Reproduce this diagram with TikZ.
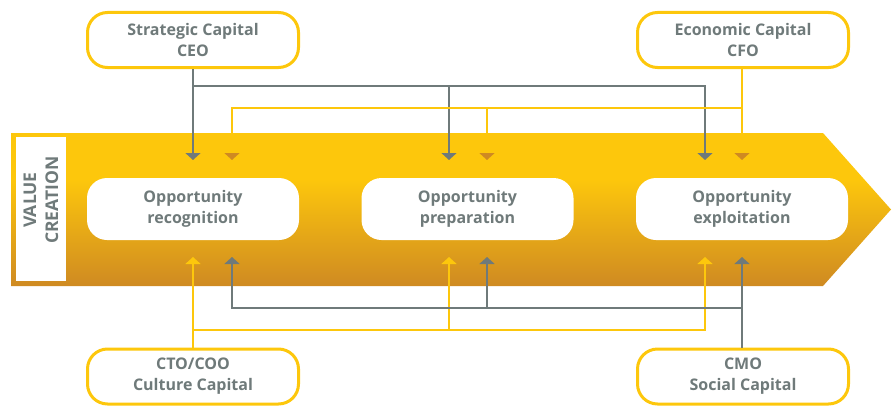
\documentclass[tikz,border=0pt]{standalone}
\usepackage{fontspec}
\setmainfont{Open Sans}
\usetikzlibrary{arrows.meta}

\definecolor{capyellow}{HTML}{FDC70C}
\definecolor{capgray}{HTML}{6F7A7A}
\definecolor{caporange}{HTML}{CF8A22}
\pgfdeclareverticalshading{bandshade}{100bp}{color(0bp)=(caporange); color(25bp)=(caporange); color(60bp)=(capyellow); color(100bp)=(capyellow)}

\tikzset{
	capbox/.style={draw=capyellow, line width=3pt, fill=white, rounded corners=20pt,
		minimum width=211pt, minimum height=55pt, align=center, text=capgray,
		font=\bfseries\fontsize{16}{21}\selectfont},
	oppbox/.style={fill=white, rounded corners=20pt, minimum width=212pt,
		minimum height=62pt, align=center, text=capgray,
		font=\bfseries\fontsize{16}{21}\selectfont},
	grayarrow/.style={draw=capgray, line width=2pt, -{Triangle[width=15pt,length=7pt]}},
	yelarrow/.style={draw=capyellow, line width=2pt, -{Triangle[width=15pt,length=7pt]}},
	orarrow/.style={draw=capyellow, line width=2pt, -{Triangle[width=15pt,length=7pt,color=caporange]}},
}

\begin{document}
\begin{tikzpicture}[x=1pt,y=1pt]
	\useasboundingbox (0,0) rectangle (893,408);
	
	% the value creation band
	\shade[shading=bandshade] (11,122) -- (11,275) -- (823,275) -- (891,198.5) -- (823,122) -- cycle;
	\fill[white] (16,127) rectangle (66,271);
	\node[rotate=90, align=center, text=capgray, font=\bfseries\fontsize{17.5}{22}\selectfont] (vc) at (41,208) {VALUE\\CREATION};
	
	% phases
	\node[oppbox] (rec) at (193,199) {Opportunity\\recognition};
	\node[oppbox] (prep) at (467.5,199) {Opportunity\\preparation};
	\node[oppbox] (expl) at (742,199) {Opportunity\\exploitation};
	
	% capitals
	\node[capbox] (ceo) at (193,368) {Strategic Capital\\CEO};
	\node[capbox] (cfo) at (743,368) {Economic Capital\\CFO};
	\node[capbox] (cto) at (193,31.5) {CTO/COO\\Culture Capital};
	\node[capbox] (cmo) at (743,31.5) {CMO\\Social Capital};
	
	% arrow tips above and below the phases
	\coordinate (recT) at (193,248);
	\coordinate (recTo) at (232,248);
	\coordinate (prepT) at (449,248);
	\coordinate (prepTo) at (487,248);
	\coordinate (explT) at (705,248);
	\coordinate (explTo) at (742,248);
	\coordinate (recB) at (193,151);
	\coordinate (recBg) at (232,151);
	\coordinate (prepB) at (449,151);
	\coordinate (prepBg) at (487,151);
	\coordinate (explB) at (705,151);
	\coordinate (explBg) at (742,151);
	
	% junctions
	\coordinate (ceoJ) at (193,322);
	\coordinate (cfoJ) at (742,300);
	\coordinate (ctoJ) at (193,78);
	\coordinate (cmoJ) at (742,100);
	
	% strategic capital
	\draw[grayarrow] (ceo.south) -- (recT);
	\draw[grayarrow] (ceoJ) -| (explT);
	\draw[grayarrow] (ceoJ -| prepT) -- (prepT);
	
	% economic capital
	\draw[orarrow] (cfo.south -| explTo) -- (explTo);
	\draw[orarrow] (cfoJ) -| (recTo);
	\draw[orarrow] (cfoJ -| prepTo) -- (prepTo);
	
	% culture capital
	\draw[yelarrow] (cto.north) -- (recB);
	\draw[yelarrow] (ctoJ) -| (explB);
	\draw[yelarrow] (ctoJ -| prepB) -- (prepB);
	
	% social capital
	\draw[grayarrow] (cmo.north -| explBg) -- (explBg);
	\draw[grayarrow] (cmoJ) -| (recBg);
	\draw[grayarrow] (cmoJ -| prepBg) -- (prepBg);
\end{tikzpicture}
\end{document}
